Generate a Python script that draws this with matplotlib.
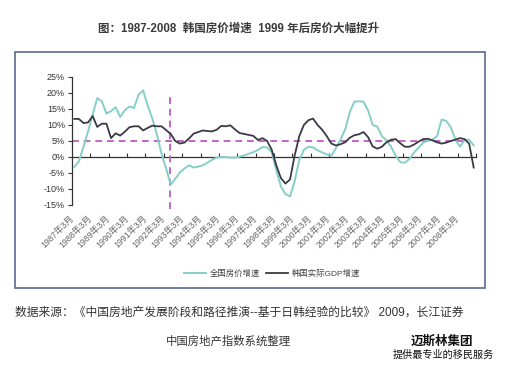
import matplotlib
matplotlib.use("Agg")
import matplotlib.pyplot as plt
from matplotlib.patches import Rectangle
import numpy as np

plt.rcParams['font.family'] = ['Liberation Sans', 'Noto Sans CJK SC', 'DejaVu Sans']

# ---- data (quarterly, 1987Q1 - 2008Q4), %
house_price = [-3.1, -1.4, 3.2, 8.0, 13.3, 18.4, 17.4, 13.6, 14.3, 15.6, 12.5, 14.6,
               15.8, 15.3, 19.5, 20.8, 16.0, 12.0, 7.0, 1.0, -3.6, -8.6, -6.8, -4.8,
               -3.6, -2.6, -3.3, -3.0, -2.6, -1.8, -0.9, -0.2, 0.0, 0.0, -0.2, -0.2,
               0.1, 0.5, 1.0, 1.5, 2.2, 3.1, 3.0, 1.5, -4.2, -9.2, -11.6, -12.3,
               -7.5, -1.0, 2.2, 3.2, 3.0, 2.1, 1.4, 0.8, 0.4, 2.8, 5.5, 8.6,
               14.0, 17.3, 17.4, 17.3, 14.5, 10.0, 9.5, 6.5, 5.2, 3.2, 0.4, -1.6,
               -1.8, -0.6, 1.4, 2.9, 4.5, 5.1, 5.4, 6.5, 11.7, 11.3, 9.3, 5.5,
               3.2, 5.3, 5.4, 3.6]
gdp = [11.9, 11.9, 10.6, 10.8, 12.8, 9.4, 10.4, 10.4, 5.9, 7.4, 6.7, 7.9,
       9.3, 9.6, 9.6, 8.3, 9.1, 9.8, 9.6, 9.6, 8.4, 7.2, 5.0, 4.2,
       4.5, 5.8, 7.3, 7.8, 8.3, 8.1, 8.0, 8.5, 9.7, 9.6, 9.9, 8.6,
       7.5, 7.2, 6.9, 6.6, 5.3, 5.9, 5.0, 2.3, -2.6, -6.6, -8.3, -7.0,
       0.5, 6.5, 10.0, 11.5, 12.0, 10.0, 8.5, 6.5, 4.2, 3.6, 4.0, 4.6,
       6.0, 6.8, 7.1, 7.8, 6.2, 3.3, 2.6, 3.2, 4.6, 5.4, 5.6, 4.3,
       3.2, 3.2, 3.9, 4.8, 5.6, 5.7, 5.2, 4.6, 4.2, 4.5, 5.0, 5.4,
       5.9, 5.6, 4.2, -3.3]
start_year = 1987
years = list(range(1987, 2009))
tick_labels = [f"{y}年3月" for y in years]
yticks = [-15, -10, -5, 0, 5, 10, 15, 20, 25]
ref_level = 5
ref_x = 1992.33
series_names = ["全国房价增速", "韩国实际GDP增速"]

x = start_year + (np.arange(len(gdp)) + 0.5) / 4.0

W, H = 506, 372
fig = plt.figure(figsize=(W / 100, H / 100), dpi=100)

# outer frame
fig.patches.append(Rectangle((15 / W, 1 - 288 / H), 470 / W, 236 / H,
                             transform=fig.transFigure, fill=False,
                             edgecolor='#5a6a90', linewidth=1.2))

ylo, yhi = -17, 26
ax = fig.add_axes([72 / W, 1 - 211.4 / H, 404 / W, (211.4 - 73.8) / H])
ax.set_xlim(1987, 2009)
ax.set_ylim(ylo, yhi)

l1, = ax.plot(x, house_price, color='#84cfc8', lw=1.4, zorder=3)
l2, = ax.plot(x, gdp, color='#3a3a44', lw=1.3, zorder=4)

ax.plot([1987, 2008.5], [ref_level, ref_level], color='#c266c8', lw=1.4,
        linestyle=(0, (3.5, 2.5)), zorder=2)
ax.plot([ref_x, ref_x], [-16.2, 20], color='#c266c8', lw=1.4,
        linestyle=(0, (3.5, 2.5)), zorder=2)

for s in ['top', 'right', 'bottom']:
    ax.spines[s].set_visible(False)
ax.spines['left'].set_bounds(-15, 25)
ax.spines['left'].set_color('#333333')
ax.spines['left'].set_linewidth(0.9)
ax.set_yticks(yticks)
ax.set_yticklabels([f"{v}%" for v in yticks])
ax.tick_params(axis='y', length=3, width=0.8, labelsize=6.5,
               labelcolor='#333333', color='#333333', pad=2)

ax.set_xticks(years)
ax.set_xticklabels(tick_labels, rotation=45, ha='right', va='center',
                   rotation_mode='anchor')
ax.tick_params(axis='x', length=0, labelsize=6.3, labelcolor='#666666', pad=4)

# zero line with tick marks
frac0 = (0 - ylo) / (yhi - ylo)
sec = ax.secondary_xaxis(frac0)
sec.set_xticks(list(range(1988, 2010)))
sec.set_xticklabels([])
sec.tick_params(direction='in', length=3, width=0.8, color='#333333')
sec.spines['bottom'].set_color('#333333')
sec.spines['bottom'].set_linewidth(0.9)
for s in ['top', 'left', 'right']:
    if s in sec.spines:
        sec.spines[s].set_visible(False)

fig.legend([l1, l2], series_names, loc='center', bbox_to_anchor=(272 / W, 1 - 274 / H),
           ncol=2, frameon=False, fontsize=6, handlelength=2.6, columnspacing=0.8,
           handletextpad=0.4, labelcolor='#444444')

fig.text(239 / W, 1 - 29 / H, "图：1987-2008  韩国房价增速  1999 年后房价大幅提升",
         ha='center', va='center', fontsize=8.3, fontweight='bold', color='#3a3a3a')
fig.text(15 / W, 1 - 313 / H,
         "数据来源：《中国房地产发展阶段和路径推演--基于日韩经验的比较》 2009，长江证券",
         ha='left', va='center', fontsize=8.5, color='#333333')
fig.text(228 / W, 1 - 341 / H, "中国房地产指数系统整理", ha='center', va='center',
         fontsize=8.2, color='#333333')
fig.text(442 / W, 1 - 341 / H, "迈斯林集团", ha='center', va='center',
         fontsize=9, fontweight='bold', color='#111111')
fig.text(443 / W, 1 - 355 / H, "提供最专业的移民服务", ha='center', va='center',
         fontsize=7.3, color='#111111')

fig.savefig("out.png", dpi=100)
